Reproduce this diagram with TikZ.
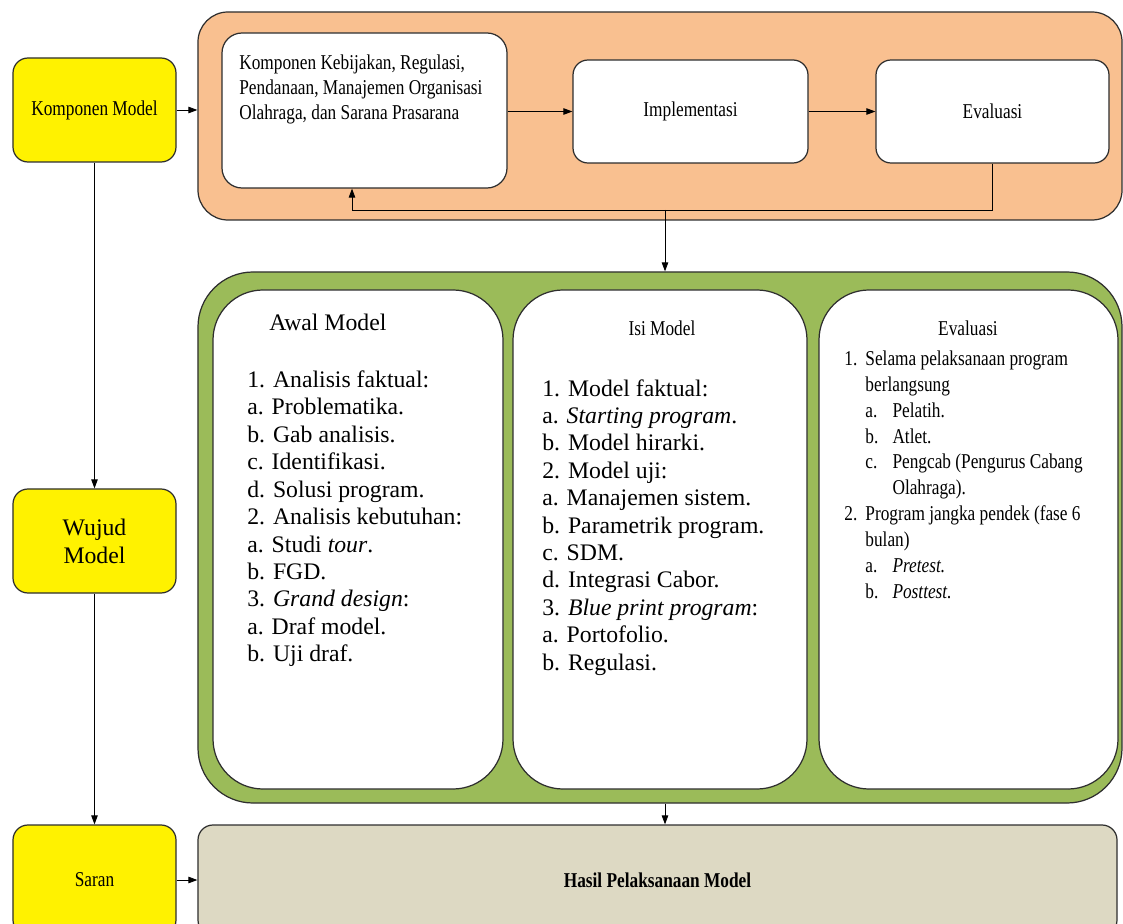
\documentclass[tikz,border=0pt]{standalone}
\usepackage{fontspec}
\setmainfont{Liberation Serif}
\newfontfamily\narrowfont{Liberation Serif}[FakeStretch=0.82]
\usetikzlibrary{arrows.meta,positioning}

\definecolor{edge}{HTML}{2E2E2E}
\definecolor{orangefill}{HTML}{F9C090}
\definecolor{greenfill}{HTML}{9BBB59}
\definecolor{tanfill}{HTML}{DDD9C3}

\newcommand{\narrowtext}{\narrowfont\fontsize{12}{14.2}\selectfont}
\newcommand{\bodytext}{\fontsize{13.5}{15.6}\selectfont}
\newcommand{\lnum}[1]{\makebox[12pt][l]{#1}}
\newcommand{\lsub}[1]{\hspace*{12pt}\makebox[15.4pt][l]{#1}}

\tikzset{
  basebox/.style={draw=edge, line width=0.7pt, inner sep=0pt},
  yellowbox/.style={basebox, fill=yellow, rounded corners=3mm, minimum width=32.6mm},
  whitebox/.style={basebox, fill=white, rounded corners=3mm},
  panel/.style={basebox, fill=white, rounded corners=10mm, minimum height=99.8mm},
  listtext/.style={anchor=north west, align=left, inner sep=0pt},
  arr/.style={-{Triangle[length=1.8mm,width=1.3mm]}, line width=0.5pt, black}
}

\begin{document}
\begin{tikzpicture}[x=0.2mm, y=-0.2mm]
\clip (0,0) rectangle (1123,924);

% left column
\node[yellowbox, minimum height=20.8mm, font=\narrowtext] (komp) at (94.5,110) {Komponen Model};
\node[yellowbox, minimum height=20.8mm, align=center,
      font=\fontsize{13.5}{16}\selectfont] (wujud) at (94.5,541) {Wujud\\Model};
\node[yellowbox, minimum height=22mm, font=\narrowtext] (saran) at (94.5,880) {Saran};

% top block
\node[basebox, fill=orangefill, rounded corners=6mm, minimum width=184.8mm, minimum height=41.6mm] (orange) at (660,116) {};
\node[whitebox, rounded corners=4mm, minimum width=57mm, minimum height=31mm] (kebijakan) at (364.5,110.5) {};
\node[listtext, font=\narrowtext] (kebtext) at (239,54.6)
  {Komponen Kebijakan, Regulasi,\\Pendanaan, Manajemen Organisasi\\Olahraga, dan Sarana Prasarana};
\node[whitebox, minimum width=47mm, minimum height=20.6mm, font=\narrowtext] (impl) at (690.5,111.5) {Implementasi};
\node[whitebox, minimum width=46.6mm, minimum height=20.6mm, font=\narrowtext] (eval) at (992.5,111.5) {Evaluasi};

% middle block
\node[basebox, fill=greenfill, rounded corners=11mm, minimum width=184.8mm, minimum height=106.2mm] (green) at (660,537.5) {};
\node[panel, minimum width=58mm] (awal) at (358,539.5) {};
\node[panel, minimum width=58.8mm] (isi) at (660,539.5) {};
\node[panel, minimum width=59.8mm] (evalpanel) at (968.5,539.5) {};

\node[anchor=base west, inner sep=0pt, font=\bodytext] (awaltitle) at (269,331) {Awal Model};
\node[listtext, font=\bodytext] (awallist) at (247,370.5)
  {1. Analisis faktual:\\
   a. Problematika.\\
   b. Gab analisis.\\
   c. Identifikasi.\\
   d. Solusi program.\\
   2. Analisis kebutuhan:\\
   a. Studi \textit{tour}.\\
   b. FGD.\\
   3. \textit{Grand design}:\\
   a. Draf model.\\
   b. Uji draf.};

\node[anchor=base, inner sep=0pt, font=\narrowtext] (isititle) at (662,336) {Isi Model};
\node[listtext, font=\bodytext] (isilist) at (542,379)
  {1. Model faktual:\\
   a. \textit{Starting program}.\\
   b. Model hirarki.\\
   2. Model uji:\\
   a. Manajemen sistem.\\
   b. Parametrik program.\\
   c. SDM.\\
   d. Integrasi Cabor.\\
   3. \textit{Blue print program}:\\
   a. Portofolio.\\
   b. Regulasi.};

\node[anchor=base, inner sep=0pt, font=\narrowtext] (evaltitle) at (968,336) {Evaluasi};
\node[listtext, font=\narrowfont\fontsize{12}{14.7}\selectfont] (evallist) at (844,350.6)
  {\lnum{1.}Selama pelaksanaan program\\
   \hspace*{12pt}berlangsung\\
   \lsub{a.}Pelatih.\\
   \lsub{b.}Atlet.\\
   \lsub{c.}Pengcab (Pengurus Cabang\\
   \hspace*{27.4pt}Olahraga).\\
   \lnum{2.}Program jangka pendek (fase 6\\
   \hspace*{12pt}bulan)\\
   \lsub{a.}\textit{Pretest.}\\
   \lsub{b.}\textit{Posttest.}};

% bottom block
\node[basebox, fill=tanfill, rounded corners=3mm, minimum width=183.8mm, minimum height=22mm,
      font=\narrowfont\bfseries\fontsize{12}{14}\selectfont] (hasil) at (657.5,880) {Hasil Pelaksanaan Model};

% connectors
\coordinate (fb) at (352,210);
\coordinate (mid) at (665,210);
\draw[arr] (komp.east) -- (komp.east -| orange.west);
\draw[arr] (impl.west -| kebijakan.east) -- (impl.west);
\draw[arr] (impl.east) -- (eval.west);
\draw[arr] (eval.south) |- (fb) -- (fb |- kebijakan.south);
\draw[arr] (mid) -- (mid |- green.north);
\draw[arr] (mid |- green.south) -- (mid |- hasil.north);
\draw[arr] (komp.south) -- (wujud.north);
\draw[arr] (wujud.south) -- (saran.north);
\draw[arr] (saran.east) -- (hasil.west);
\end{tikzpicture}
\end{document}
